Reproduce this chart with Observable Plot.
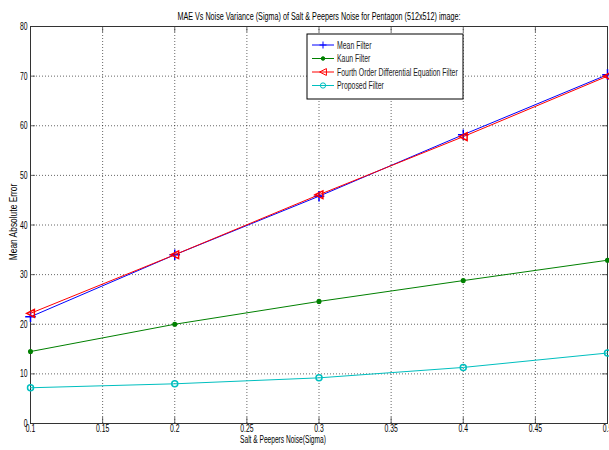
<!DOCTYPE html>
<html><head><meta charset="utf-8">
<script src="https://cdn.jsdelivr.net/npm/d3@7"></script>
<script src="https://cdn.jsdelivr.net/npm/@observablehq/plot@0.6"></script>
<style>
body{margin:0;background:#fff;}
svg{font-family:"Liberation Sans",Arial,sans-serif;}
</style></head><body><div id="chart"></div>
<script>
const sigma = [0.1, 0.2, 0.3, 0.4, 0.5];
const meanFilter = [21.5, 34.0, 45.8, 58.2, 70.3];
const kaunFilter = [14.5, 20.0, 24.6, 28.8, 32.9];
const fourthOrder = [22.2, 34.0, 46.1, 57.8, 70.0];
const proposed = [7.2, 8.0, 9.2, 11.3, 14.2];
const seriesNames = ["Mean Filter", "Kaun Filter", "Fourth Order Differential Equation Filter", "Proposed Filter"];
const seriesColors = ["#0000ff", "#008000", "#ff0000", "#00bfbf"];
const xTicks = [0.1, 0.15, 0.2, 0.25, 0.3, 0.35, 0.4, 0.45, 0.5];
const yTicks = [0, 10, 20, 30, 40, 50, 60, 70, 80];
const title = "MAE Vs Noise Variance (Sigma) of Salt & Peepers Noise for Pentagon (512x512) image:";
const xLabel = "Salt & Peepers Noise(Sigma)";
const yLabel = "Mean Absolute Error";

const triLeft = {draw(ctx, size){ const r = Math.sqrt(size)/1.6; ctx.moveTo(-r,0); ctx.lineTo(r,-r); ctx.lineTo(r,r); ctx.closePath(); }};
const allSeries = [meanFilter, kaunFilter, fourthOrder, proposed];
const data = [];
allSeries.forEach((vals, i) => vals.forEach((v, j) => data.push({x: sigma[j], y: v, s: seriesNames[i], i})));

const gridStyle = {stroke: "#000", strokeOpacity: 0.6, strokeDasharray: "1,2"};
const tickStyle = {stroke: "#444", strokeOpacity: 0.8};
const marks = [
  Plot.gridX(xTicks.slice(1, -1), gridStyle),
  Plot.gridY(yTicks.slice(1, -1), gridStyle),
  Plot.ruleX(xTicks, {x: d => d, y1: 0, y2: 1.2, ...tickStyle}),
  Plot.ruleX(xTicks, {x: d => d, y1: 78.8, y2: 80, ...tickStyle}),
  Plot.ruleY(yTicks, {y: d => d, x1: 0.1, x2: 0.1035, ...tickStyle}),
  Plot.ruleY(yTicks, {y: d => d, x1: 0.4965, x2: 0.5, ...tickStyle}),
  Plot.frame({stroke: "#333"}),
  Plot.axisX(xTicks, {tickSize: 0, tickPadding: 1, fontSize: 11, label: null, tickFormat: d => String(d), className: "tk"}),
  Plot.axisY(yTicks, {tickSize: 0, tickPadding: 3, fontSize: 11, label: null, className: "tk"}),
];
allSeries.forEach((vals, i) => {
  const d = data.filter(e => e.i === i);
  marks.push(Plot.line(d, {x: "x", y: "y", stroke: seriesColors[i], strokeWidth: 1}));
  if (i === 1) marks.push(Plot.dot(d, {x: "x", y: "y", r: 1.8, fill: seriesColors[i], stroke: seriesColors[i]}));
  else if (i === 3) marks.push(Plot.dot(d, {x: "x", y: "y", r: 3, symbol: "circle", stroke: seriesColors[i], fill: "none"}));
  else if (i === 0) marks.push(Plot.dot(d, {x: "x", y: "y", r: 3.5, symbol: "plus", stroke: seriesColors[i], fill: "none"}));
  else marks.push(Plot.dot(d, {x: "x", y: "y", r: 3.5, symbol: triLeft, stroke: seriesColors[i], fill: "none"}));
});
marks.push(Plot.text([title], {text: d => d, frameAnchor: "top", dy: -14, fontSize: 10, fill: "#000", className: "ttl"}));
marks.push(Plot.text([xLabel], {text: d => d, frameAnchor: "bottom", dy: 19, dx: -36, fontSize: 10, fill: "#000", className: "xl"}));
marks.push(Plot.text([yLabel], {text: d => d, frameAnchor: "left", textAnchor: "middle", dx: -17, dy: -3, rotate: -90, fontSize: 10, fill: "#000", className: "yl"}));

const chart = Plot.plot({
  width: 609, height: 450,
  marginTop: 26, marginLeft: 30, marginRight: 2, marginBottom: 27,
  x: {domain: [0.1, 0.5]},
  y: {domain: [0, 80]},
  marks
});

// legend
const svg = d3.select(chart);
const lg = svg.append("g").attr("class", "lgd").attr("transform", "translate(307,34)").attr("text-anchor", "start");
lg.append("rect").attr("width", 156).attr("height", 65).attr("fill", "#fff").attr("stroke", "#000").attr("stroke-width", 1);
seriesNames.forEach((name, i) => {
  const y = 11 + i * 13.5;
  const g = lg.append("g").attr("transform", `translate(0,${y})`);
  g.append("line").attr("x1", 5).attr("x2", 27).attr("y1", 0).attr("y2", 0).attr("stroke", seriesColors[i]);
  const sym = i === 2 ? triLeft : d3.symbolCircle;
  const size = i === 1 ? 10 : i === 3 ? 22 : 30;
  g.append("path").attr("transform", "translate(16,0)")
    .attr("d", i === 0 ? "M-3.5,0H3.5M0,-3.5V3.5" : d3.symbol(sym, size)())
    .attr("stroke", seriesColors[i]).attr("fill", i === 1 ? seriesColors[i] : "none");
  g.append("text").attr("x", 30).attr("y", 0).attr("dy", "0.35em").attr("font-size", 10).attr("fill", "#222").text(name);
});

document.getElementById("chart").appendChild(chart);
// condense text to mimic the narrow font of the original
function condense(sel, f) {
  svg.selectAll(sel).each(function() {
    const len = this.getComputedTextLength();
    if (!(len > 0)) return;
    const L = len * f;
    const anchor = getComputedStyle(this).textAnchor;
    const x0 = parseFloat(this.getAttribute("x") || 0);
    let x = x0;
    if (anchor === "middle") x = x0 - L / 2;
    else if (anchor === "end") x = x0 - L;
    this.setAttribute("text-anchor", "start");
    this.setAttribute("x", x.toFixed(2));
    this.setAttribute("textLength", L.toFixed(1));
    this.setAttribute("lengthAdjust", "spacingAndGlyphs");
  });
}
condense(".tk text", 0.62);
condense(".ttl text", 0.72);
condense(".xl text", 0.66);
condense(".yl text", 0.84);
condense(".lgd text", 0.69);
</script></body></html>
